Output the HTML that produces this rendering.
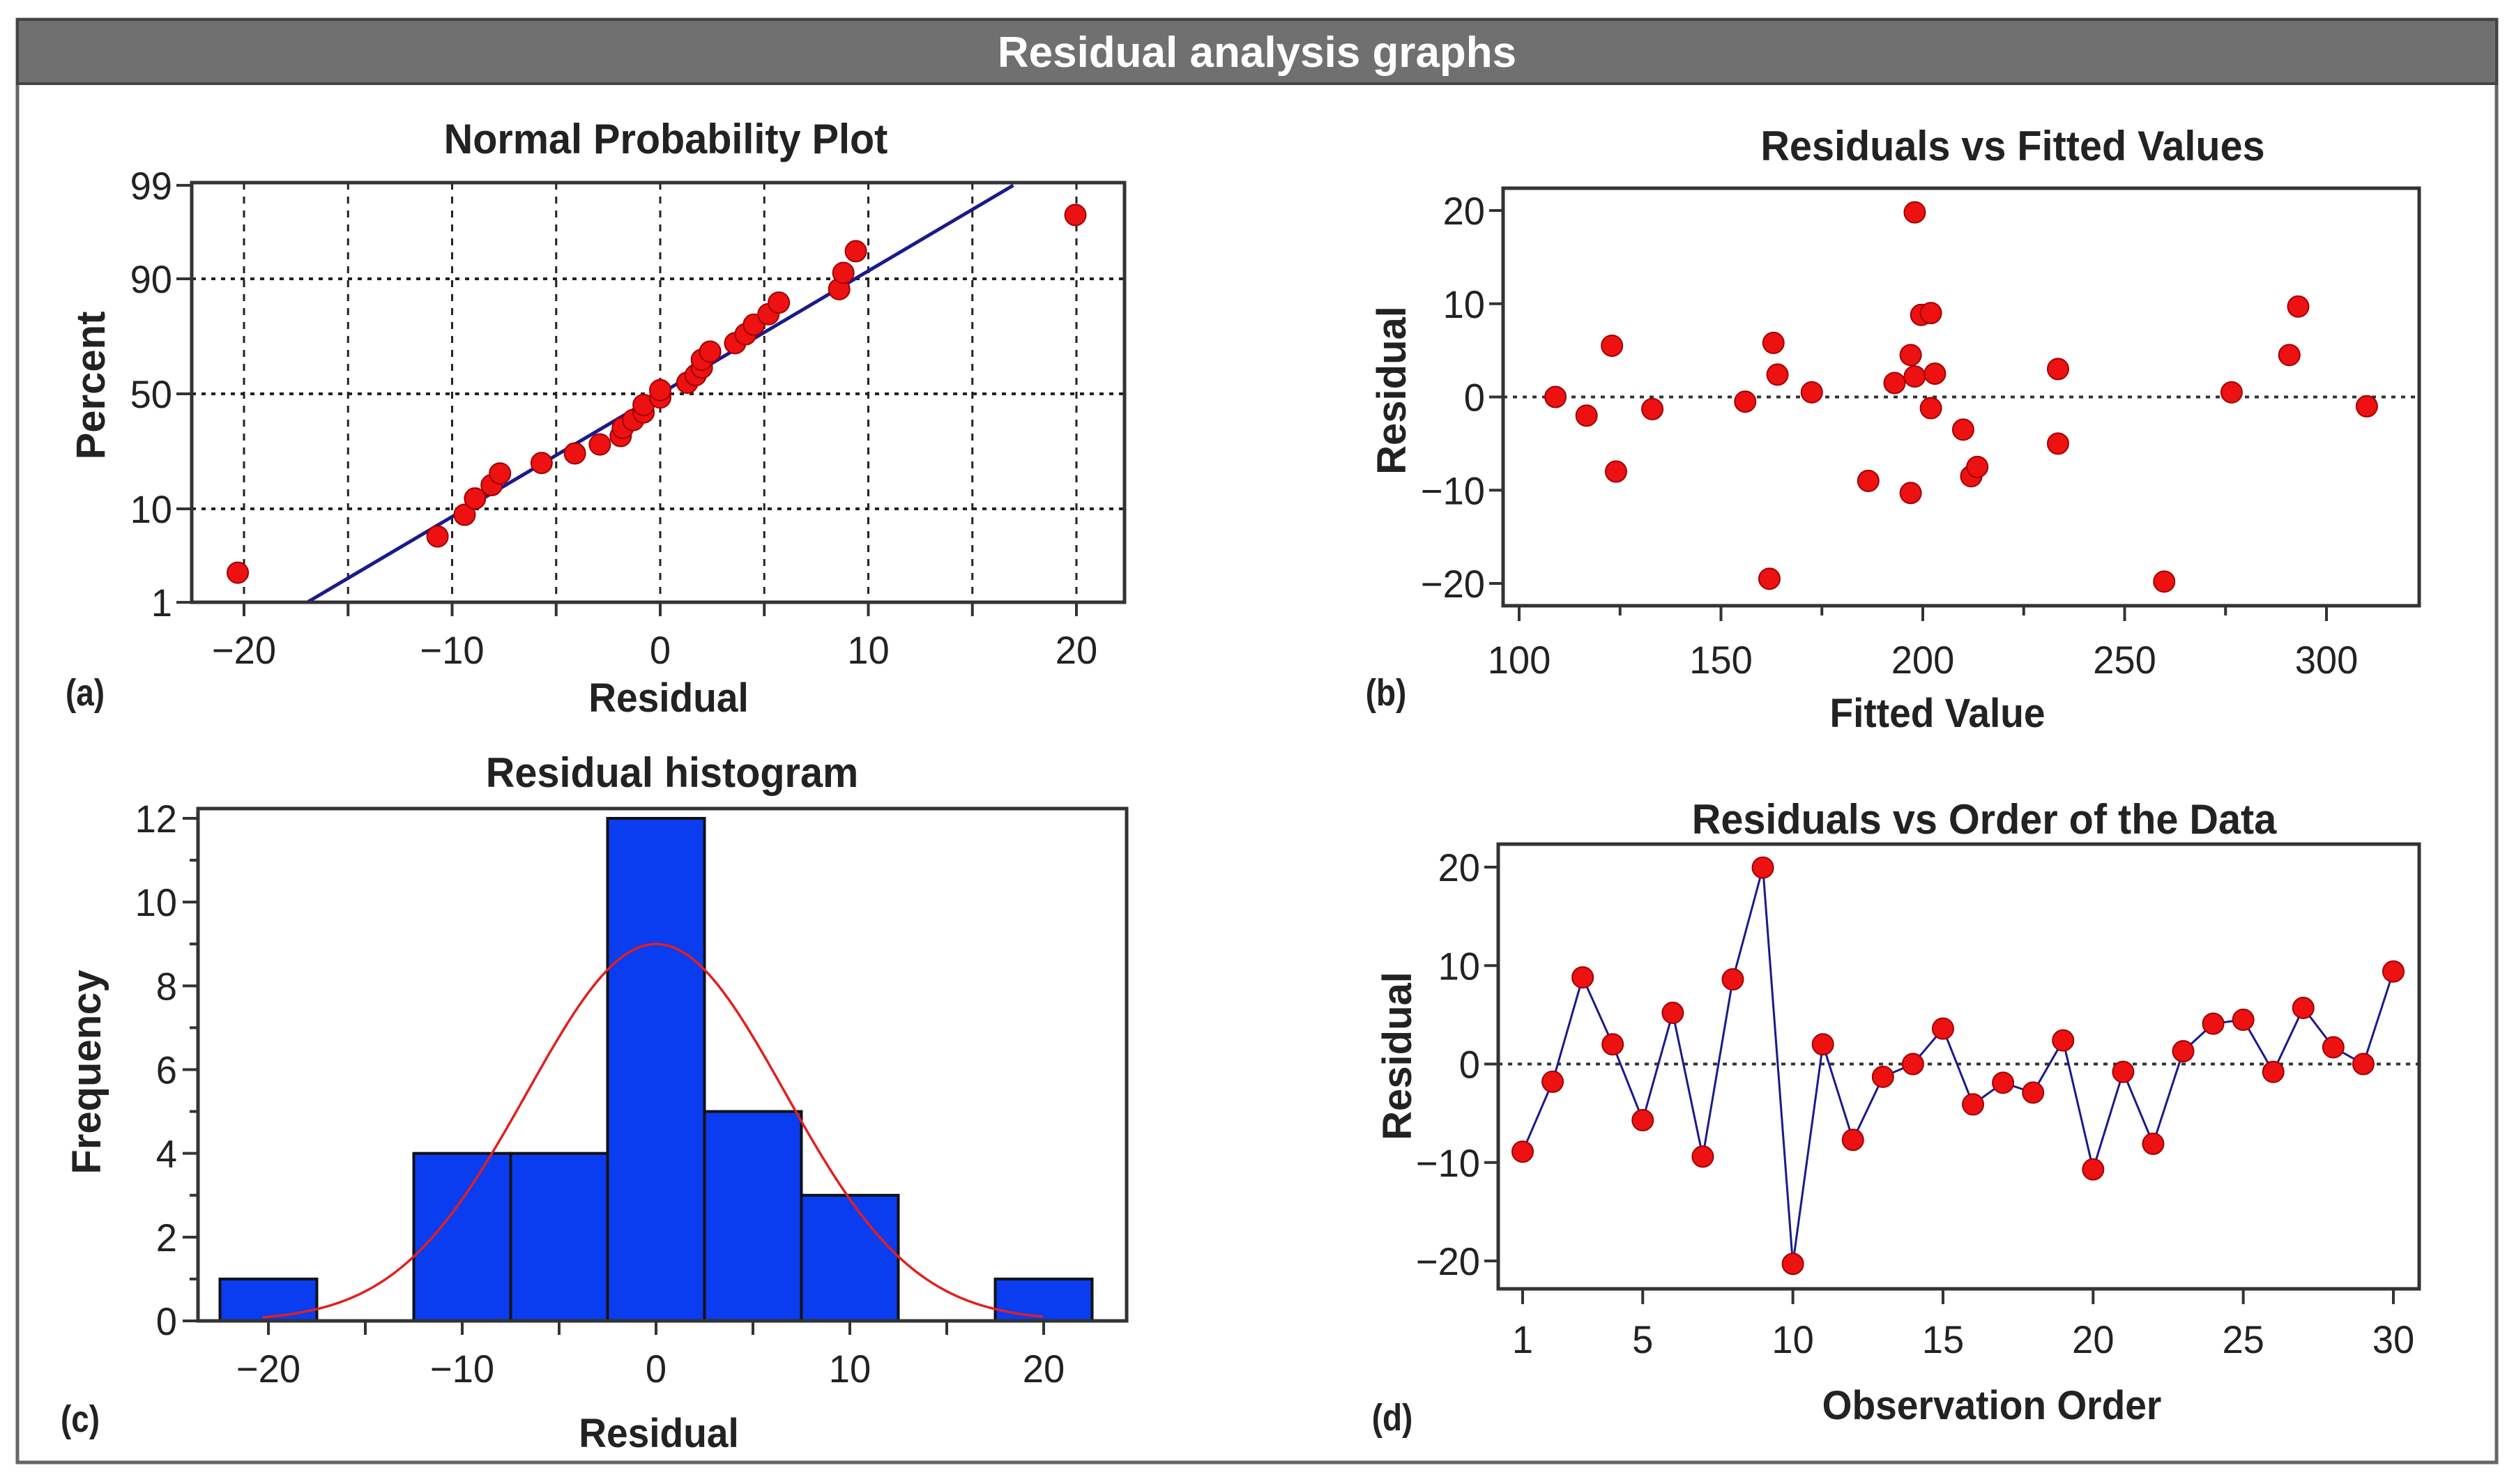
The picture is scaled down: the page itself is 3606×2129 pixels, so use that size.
<!DOCTYPE html>
<html><head><meta charset="utf-8"><style>
html,body{margin:0;padding:0;background:#fff}
svg text{font-family:"Liberation Sans",sans-serif;fill:#222}
</style></head><body>
<svg id="fig" width="3606" height="2124" viewBox="0 0 3606 2124" xmlns="http://www.w3.org/2000/svg">
<rect x="25" y="28" width="3556" height="2070" fill="#fff" stroke="#666" stroke-width="5"/>
<rect x="25" y="28" width="3556" height="92" fill="#707070" stroke="#444" stroke-width="4"/>
<text x="1803" y="96" text-anchor="middle" font-size="62" font-weight="bold" style="fill:#fff">Residual analysis graphs</text>
<g id="g"></g>
</svg>
<script>
// ---- data ----
const orderResiduals = [-8.9,-1.8,8.8,2.0,-5.7,5.2,-9.4,8.6,19.95,-20.3,2.0,-7.7,-1.3,0,3.6,-4.1,-1.9,-2.9,2.4,-10.7,-0.8,-8.1,1.3,4.1,4.5,-0.8,5.7,1.7,0,9.4];
const fittedValues = [109,116.7,123,124,133,156,163,164,162,172.5,186.5,193,197,198,197,198,199.6,202,203,202,210,212,213.5,233.5,233.5,259.8,276.5,290.8,293,310];
const fittedResiduals = [0,-2,5.5,-8,-1.3,-0.5,5.8,2.4,-19.5,0.5,-9,1.5,4.5,2.2,-10.3,19.8,8.8,9,2.5,-1.2,-3.5,-8.5,-7.5,3,-5,-19.8,0.5,4.5,9.7,-1];
const histCenters = [-20,-15,-10,-5,0,5,10,15,20];
const histCounts = [1,0,4,4,12,5,3,0,1];
const lineMean = 0, lineSd = 7.3;
const curveSd = 6.65;
const probTicks = [1,10,50,90,99];

const NS="http://www.w3.org/2000/svg";
const G=document.getElementById('g');
function el(tag,attrs,parent){const e=document.createElementNS(NS,tag);for(const k in attrs)e.setAttribute(k,attrs[k]);(parent||G).appendChild(e);return e;}
function txt(s,x,y,size,opts){opts=opts||{};const sc=opts.sc||1;
  let tr='translate('+x+' '+y+')'+(opts.rot?' rotate(-90)':'')+' scale('+sc+' 1)';
  const t=el('text',{x:0,y:0,'font-size':size,'text-anchor':opts.anchor||'middle',transform:tr});
  if(opts.bold)t.setAttribute('font-weight','bold');t.textContent=s;return t;}
function lin(d0,d1,r0,r1){return v=>r0+(v-d0)*(r1-r0)/(d1-d0);}
function erfinv(x){const a=0.147;const ln=Math.log(1-x*x);const t=2/(Math.PI*a)+ln/2;return Math.sign(x)*Math.sqrt(Math.sqrt(t*t-ln/a)-t);}
function qnorm(p){return Math.SQRT2*erfinv(2*p-1);}
function dot(x,y){return el('circle',{cx:x,cy:y,r:15,fill:'#ee1111',stroke:'#a00000','stroke-width':2});}
function box(x0,y0,x1,y1){return el('rect',{x:x0,y:y0,width:x1-x0,height:y1-y0,fill:'none',stroke:'#333','stroke-width':5});}
function tickY(x,y,len){return el('line',{x1:x,y1:y,x2:x-len,y2:y,stroke:'#333','stroke-width':4});}
function tickX(x,y,len){return el('line',{x1:x,y1:y,x2:x,y2:y+len,stroke:'#333','stroke-width':4});}
const TF=56, TS=0.97, HF=60, HS=0.96, AF=58, AS=0.95;
function neg(v){return v<0?'\u2212'+(-v):String(v);}

// ---- Panel A ----
{const L=275,R=1613,T=262,B=864;
const sx=lin(-20,20,350,1544);const z0=565,zs=128.7;const sy=p=>z0-qnorm(p/100)*zs;
const g=el('g',{});
for(let v=-20;v<=20;v+=5){const l=el('line',{x1:sx(v),y1:T,x2:sx(v),y2:B,stroke:'#222','stroke-width':3,'stroke-dasharray':'10,10'},g);tickX(sx(v),B,20);}
for(const p of [10,50,90]){const l=el('line',{x1:L,y1:sy(p),x2:R,y2:sy(p),stroke:'#222','stroke-width':4,'stroke-dasharray':'6,8'},g);}
for(const p of probTicks){tickY(L,sy(p),22);const t=txt(String(p),L-28,sy(p)+20,TF,{anchor:'end',sc:TS});}
for(const v of [-20,-10,0,10,20]){const t=txt(neg(v),sx(v),952,TF,{sc:TS});}
const lx0=lineMean+qnorm(0.01)*lineSd,lx1=lineMean+qnorm(0.99)*lineSd;
const fl=el('line',{x1:sx(lx0),y1:sy(1),x2:sx(lx1),y2:sy(99),stroke:'#1a1a8c','stroke-width':5},g);

const sorted=[...orderResiduals].sort((a,b)=>a-b);const n=sorted.length;
sorted.forEach((v,i)=>{const p=(i+1-0.3)/(n+0.4)*100;const c=dot(sx(v),sy(p));});
box(L,T,R,B);
let t=txt('Normal Probability Plot',955,220,HF,{bold:true,sc:HS});
t=txt('Percent',150,553,AF,{bold:true,rot:true});
t=txt('Residual',959,1021,AF,{bold:true,sc:AS});
t=txt('(a)',122,1012,54,{bold:true,sc:0.85});}

// ---- Panel B ----
{const L=2156,R=3470,T=270,B=869;
const sx=lin(100,300,2179,3337),sy=lin(-20,20,837,302);
const z=el('line',{x1:L,y1:sy(0),x2:R,y2:sy(0),stroke:'#333','stroke-width':4,'stroke-dasharray':'6,8'});
for(let v=-20;v<=20;v+=10){tickY(L,sy(v),20);const t=txt(neg(v),L-26,sy(v)+20,TF,{anchor:'end',sc:TS});}
for(let v=100;v<=300;v+=25){tickX(sx(v),B,v%50===0?22:14);}
for(let v=100;v<=300;v+=50){const t=txt(String(v),sx(v),966,TF,{sc:TS});}
fittedValues.forEach((f,i)=>{const c=dot(sx(f),sy(fittedResiduals[i]));});
box(L,T,R,B);
let t=txt('Residuals vs Fitted Values',2887,230,HF,{bold:true,sc:HS});
t=txt('Residual',2016,560,AF,{bold:true,rot:true});
t=txt('Fitted Value',2779,1043,AF,{bold:true,sc:AS});
t=txt('(b)',1988,1012,54,{bold:true,sc:0.85});}

// ---- Panel C ----
{const L=284,R=1616,T=1160,B=1895;
const sx=lin(-20,20,385,1497),sy=lin(0,12,1895,1174);
histCenters.forEach((c,i)=>{if(histCounts[i]>0){const r=el('rect',{x:sx(c-2.5),y:sy(histCounts[i]),width:sx(c+2.5)-sx(c-2.5),height:sy(0)-sy(histCounts[i]),fill:'#0a3cf0',stroke:'#111','stroke-width':4});}});
const n=orderResiduals.length;let d='';
for(let v=-20.3;v<=20.01;v+=0.25){const y=n*5/(curveSd*Math.sqrt(2*Math.PI))*Math.exp(-0.5*(v/curveSd)**2);d+=(d?'L':'M')+sx(v).toFixed(1)+','+sy(y).toFixed(1);}
const cp=el('path',{d:d,fill:'none',stroke:'#e02020','stroke-width':3.5});
for(let v=0;v<=12;v++){tickY(L,sy(v),v%2===0?22:12);}
for(let v=0;v<=12;v+=2){const t=txt(String(v),L-30,sy(v)+20,TF,{anchor:'end',sc:TS});}
for(let v=-20;v<=20;v+=5){tickX(sx(v),B,20);}
for(const v of [-20,-10,0,10,20]){const t=txt(neg(v),sx(v),1983,TF,{sc:TS});}
box(L,T,R,B);
let t=txt('Residual histogram',964,1129,HF,{bold:true,sc:HS});
t=txt('Frequency',144,1538,AF,{bold:true,rot:true});
t=txt('Residual',945,2076,AF,{bold:true,sc:AS});
t=txt('(c)',115,2054,54,{bold:true,sc:0.85});}

// ---- Panel D ----
{const L=2149,R=3470,T=1211,B=1849;
const sx=lin(1,30,2184,3433),sy=lin(-20,20,1809,1244);
const z=el('line',{x1:L,y1:sy(0),x2:R,y2:sy(0),stroke:'#333','stroke-width':4,'stroke-dasharray':'6,8'});
for(let v=-20;v<=20;v+=10){tickY(L,sy(v),20);const t=txt(neg(v),L-26,sy(v)+20,TF,{anchor:'end',sc:TS});}
for(const v of [1,5,10,15,20,25,30]){tickX(sx(v),B,22);const t=txt(String(v),sx(v),1941,TF,{sc:TS});}
const pts=orderResiduals.map((r,i)=>sx(i+1).toFixed(1)+','+sy(r).toFixed(1)).join(' ');
const pl=el('polyline',{points:pts,fill:'none',stroke:'#1a1a8c','stroke-width':3});
orderResiduals.forEach((r,i)=>{const c=dot(sx(i+1),sy(r));});
box(L,T,R,B);
let t=txt('Residuals vs Order of the Data',2846,1196,HF,{bold:true,sc:HS});
t=txt('Residual',2024,1515,AF,{bold:true,rot:true});
t=txt('Observation Order',2857,2036,AF,{bold:true,sc:AS});
t=txt('(d)',1997,2052,54,{bold:true,sc:0.85});}
</script>
</body></html>
